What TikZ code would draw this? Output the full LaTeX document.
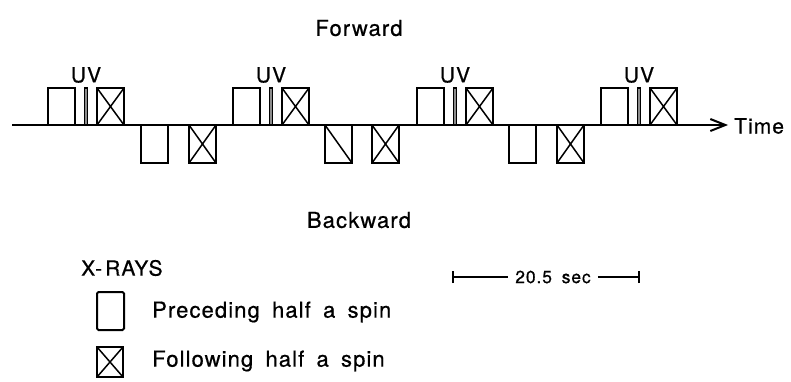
\documentclass[tikz,border=0pt]{standalone}
\usepackage{fontspec}
\setmainfont{TeX Gyre Heros}[LetterSpace=5,WordSpace=1.7,FakeBold=0.6]
\usetikzlibrary{arrows.meta}
\begin{document}
\begin{tikzpicture}[x=1pt,y=-1pt,
  lw/.style={line width=2pt},
  sbox/.style={draw,lw,inner sep=0pt,outer sep=0pt,minimum width=27pt,minimum height=37pt},
  upbox/.style={sbox,anchor=south west},
  dnbox/.style={sbox,anchor=north west,minimum height=38pt},
  crossed/.style={path picture={
      \draw[line width=1.5pt] (path picture bounding box.north west) -- (path picture bounding box.south east)
            (path picture bounding box.north east) -- (path picture bounding box.south west);}},
  slashed/.style={path picture={
      \draw[line width=1.5pt] (path picture bounding box.north west) -- (path picture bounding box.south east);}},
  uvbar/.style={draw,line width=1.4pt,fill=black!45,inner sep=0pt,outer sep=0pt,
      minimum width=3.5pt,minimum height=37pt,anchor=south},
  lbl/.style={inner sep=0pt,font=\fontsize{21}{25}\selectfont},
  big/.style={lbl,font=\fontsize{22}{26}\selectfont},
  axis/.style={lw,-{Straight Barb[length=15pt,width=12pt,line width=2pt]}}
]
\path[use as bounding box] (0,0) rectangle (791,381);

% titles
\node[big] (fwd) at (359,28) {Forward};
\node[big] (bwd) at (359,220) {Backward};

% time axis
\node[lbl,anchor=west] (time) at (734,126) {Time};
\coordinate (t0) at (12,125);
\draw[axis] (t0) -- ([xshift=-6pt]t0 -| time.west);

% forward cycles: preceding box, UV bar, following box
\foreach \i/\x in {1/48,2/233,3/417,4/601}{
  \node[upbox] (p\i) at (\x,125) {};
  \node[uvbar] (uv\i) at (\x+38,125) {};
  \node[upbox,crossed] (f\i) at (\x+49,125) {};
  \node[lbl,anchor=south] (uvl\i) at ([yshift=5pt]uv\i.north) {UV};
}

% backward cycles
\node[dnbox] (bp1) at (141,125) {};
\node[dnbox,crossed] (bf1) at (189,125) {};
\node[dnbox,slashed] (bp2) at (325,125) {};
\node[dnbox,crossed] (bf2) at (372,125) {};
\node[dnbox] (bp3) at (509,125) {};
\node[dnbox,crossed] (bf3) at (557,125) {};

% legend
\node[lbl,anchor=west] (xr) at (81,268) {X-\kern3pt RAYS};
\node[sbox,rounded corners=1.5pt,anchor=north west,minimum height=38pt] (lp) at (97,292) {};
\node[sbox,crossed,anchor=north west,minimum height=30pt,minimum width=26pt] (lf) at (97,347) {};
\node[big,anchor=west] (lpt) at (152,312) {Preceding half a spin};
\node[big,anchor=west] (lft) at (152,361) {Following half a spin};

% time scale bar
\node[inner sep=0pt,font=\fontsize{17.5}{21}\selectfont] (sc) at (553,277) {20.5 sec};
\coordinate (sl) at (453,277);
\coordinate (sr) at (639,277);
\draw[lw] (sl) -- ([xshift=-7pt]sc.west);
\draw[lw] ([xshift=7pt]sc.east) -- (sr);
\draw[lw] ([yshift=-6pt]sl) -- ([yshift=6pt]sl);
\draw[lw] ([yshift=-6pt]sr) -- ([yshift=6pt]sr);
\end{tikzpicture}
\end{document}
